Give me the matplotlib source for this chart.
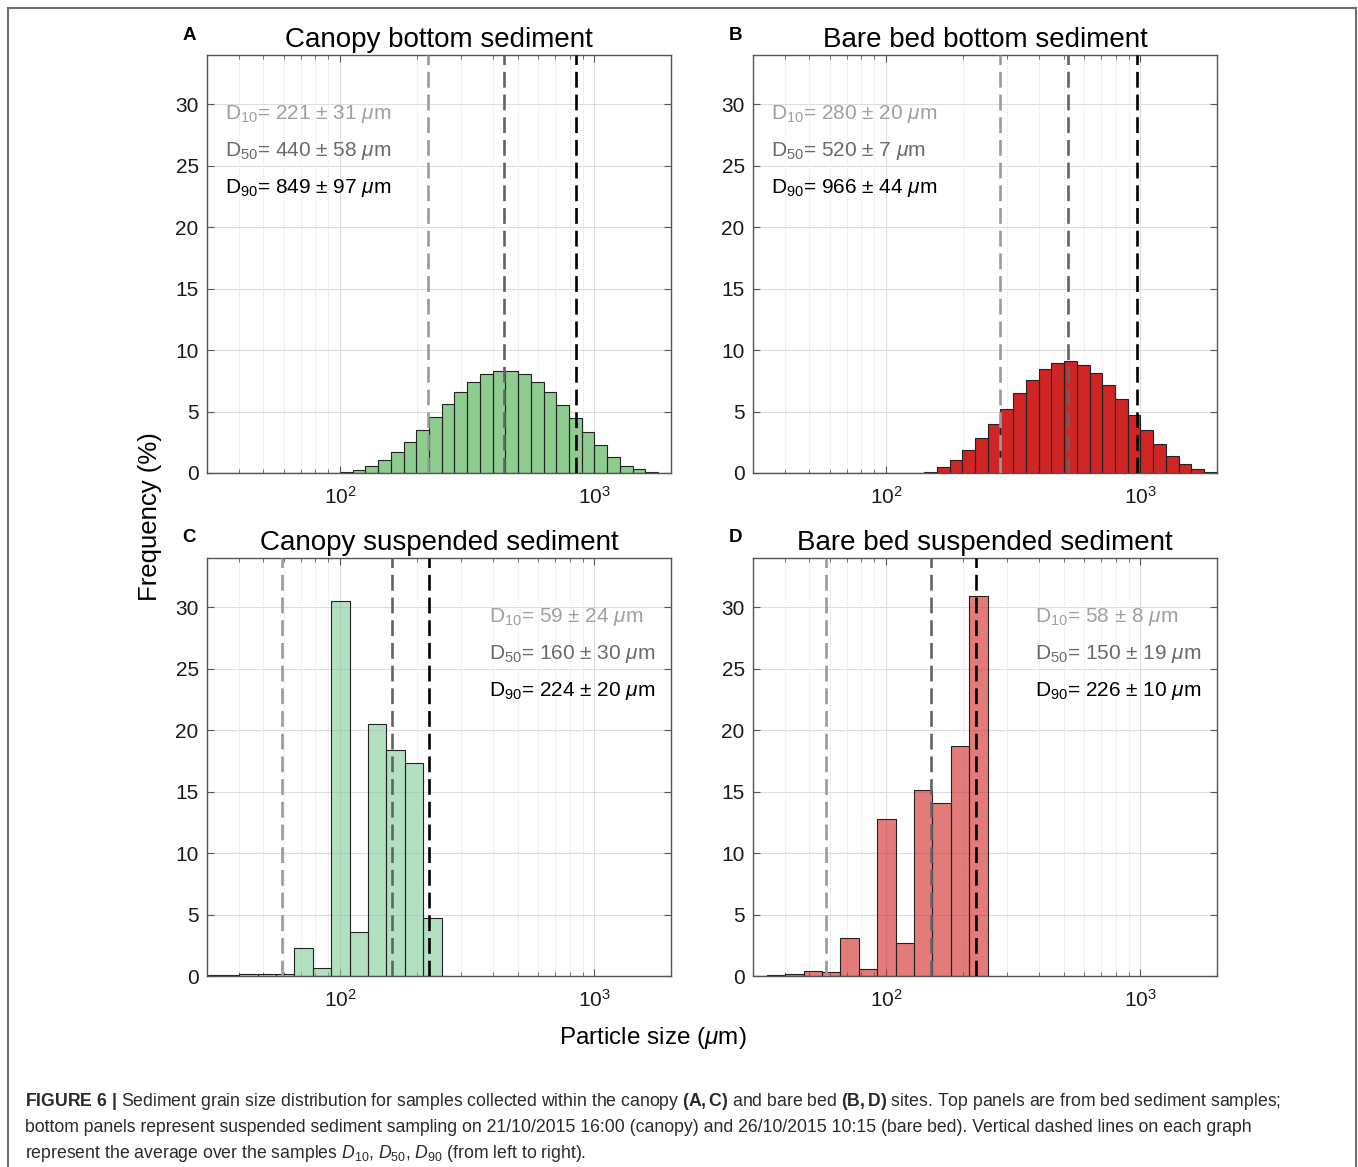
import numpy as np
import matplotlib
matplotlib.use('Agg')
import matplotlib.pyplot as plt
from matplotlib.patches import Rectangle

plt.rcParams['font.family'] = ['Liberation Sans', 'DejaVu Sans']
plt.rcParams['mathtext.fontset'] = 'custom'
plt.rcParams['mathtext.rm'] = 'Liberation Sans'
plt.rcParams['mathtext.it'] = 'Liberation Sans:italic'
plt.rcParams['mathtext.bf'] = 'Liberation Sans:bold'

# Klassengrenzen (um) -----------------------------------------------------------
bed_edges = [31.6, 35.5, 39.8, 44.7, 50.1, 56.2, 63.1, 70.8, 79.4, 89.1, 100,
             112.2, 125.9, 141.3, 158.5, 177.8, 199.5, 223.9, 251.2, 281.8, 316.2,
             354.8, 398.1, 446.7, 501.2, 562.3, 631.0, 707.9, 794.3, 891.3, 1000,
             1122, 1259, 1413, 1585, 1778, 1995]
susp_edges = [28.8, 34.0, 40.2, 47.5, 56.1, 66.2, 78.2, 92.4, 109.2, 128.9,
              152.3, 179.8, 212.4, 250.8]

# Häufigkeiten (%) -------------------------------------------------------------
freq_a = [0.03, 0.03, 0.04, 0.04, 0.03, 0.03, 0.02, 0.02, 0.01, 0.01, 0.08,
          0.27, 0.54, 1.05, 1.7, 2.54, 3.51, 4.57, 5.65, 6.62, 7.43, 8.05, 8.32,
          8.3, 8.03, 7.43, 6.6, 5.57, 4.49, 3.35, 2.3, 1.32, 0.6, 0.3, 0.05, 0.0]
freq_b = [0, 0, 0, 0, 0, 0, 0, 0, 0, 0, 0, 0, 0, 0.05,
          0.51, 1.03, 1.84, 2.81, 4.0, 5.24, 6.54, 7.59, 8.49, 8.97, 9.08, 8.81,
          8.16, 7.16, 6.03, 4.73, 3.51, 2.38, 1.41, 0.76, 0.3, 0.1]
freq_c = [0.1, 0.1, 0.14, 0.2, 0.2, 2.3, 0.68, 30.5, 3.6, 20.5, 18.35, 17.35, 4.7]
freq_d = [0.02, 0.05, 0.19, 0.38, 0.32, 3.08, 0.6, 12.8, 2.7, 15.1, 14.1, 18.7, 30.9]

# D10, D50, D90 (Mittelwert, Standardabweichung) ------------------------------
d_mean_a = [221, 440, 849]
d_std_a = [31, 58, 97]
d_mean_b = [280, 520, 966]
d_std_b = [20, 7, 44]
d_mean_c = [59, 160, 224]
d_std_c = [24, 30, 20]
d_mean_d = [58, 150, 226]
d_std_d = [8, 19, 10]

titles = ['Canopy bottom sediment', 'Bare bed bottom sediment',
          'Canopy suspended sediment', 'Bare bed suspended sediment']
letters = ['A', 'B', 'C', 'D']
d_names = ['10', '50', '90']

W, H = 1358, 1167
fig = plt.figure(figsize=(W / 100, H / 100), dpi=100)


def fx(px):
    return px / W


def fy(py):
    return 1 - py / H


line_cols = ['#9a9a9a', '#636363', 'black']
text_cols = ['#a0a0a0', '#6a6a6a', 'black']

panels = [
    # links, oben, Kanten, Werte, Farbe, Alpha, Stats, Textposition
    (207, 55, bed_edges, freq_a, '#8fcc8f', 1.0, d_mean_a, d_std_a, 0.039),
    (753, 55, bed_edges, freq_b, '#d02525', 1.0, d_mean_b, d_std_b, 0.039),
    (207, 558, susp_edges, freq_c, '#80cc99', 0.6, d_mean_c, d_std_c, 0.608),
    (753, 558, susp_edges, freq_d, '#d42a2a', 0.62, d_mean_d, d_std_d, 0.608),
]

for i, (left, top, edges, freq, col, alpha, dm, ds, tx) in enumerate(panels):
    ax = fig.add_axes([fx(left), fy(top + 418), 464 / W, 418 / H])
    edges = np.array(edges)
    ax.bar(edges[:-1], freq, width=np.diff(edges), align='edge',
           color=col, alpha=alpha, linewidth=0, zorder=2)
    ax.bar(edges[:-1], freq, width=np.diff(edges), align='edge',
           fill=False, edgecolor='#222222', linewidth=0.8, zorder=2)
    for j in range(3):
        ax.axvline(dm[j], color=line_cols[j], lw=1.9, ls=(0, (6, 2.6)), zorder=3)
        ax.text(tx, 28.8 - 3 * j, 'D$_{%s}$= %d ± %d $\\mu$m' % (d_names[j], dm[j], ds[j]),
                transform=ax.get_yaxis_transform(),
                color=text_cols[j], fontsize=15, va='baseline', zorder=4)
    ax.set_xscale('log')
    ax.set_xlim(30, 2000)
    ax.set_ylim(0, 34)
    ax.set_yticks([0, 5, 10, 15, 20, 25, 30])
    ax.set_xticks([100, 1000])
    ax.grid(True, which='major', color='#dedede', lw=0.8, zorder=0)
    ax.grid(True, which='minor', axis='x', color='#d8d8d8', lw=0.7, ls=':', zorder=0)
    ax.set_axisbelow(True)
    ax.tick_params(which='both', direction='in', top=True, right=True,
                   color='#555555', labelsize=15, labelcolor='#1a1a1a')
    ax.tick_params(which='major', length=5, pad=6)
    ax.tick_params(which='minor', length=3)
    ax.tick_params(axis='x', pad=9)
    for s in ax.spines.values():
        s.set_color('#555555')
        s.set_linewidth(1.0)
    ax.set_title(titles[i], fontsize=20, pad=6)
    fig.text(fx(left - 18), fy(top - 20), letters[i], fontsize=13.5,
             fontweight='bold', ha='center', va='center')

# Achsenbeschriftungen ----------------------------------------------------------
fig.text(fx(150), fy(517), 'Frequency (%)', rotation=90, fontsize=18.5,
         ha='center', va='center')
fig.text(fx(653), fy(1038), 'Particle size ($\\mu$m)', fontsize=17.5,
         ha='center', va='center')

# Rahmen und Bildunterschrift ---------------------------------------------------
fig.patches.append(Rectangle((fx(8), fy(1190)), fx(1356) - fx(8), fy(8) - fy(1190),
                             transform=fig.transFigure, fill=False,
                             edgecolor='#6e6e6e', lw=1.5))
cap = [r'$\mathbf{FIGURE\ 6\ |}$ Sediment grain size distribution for samples collected within the canopy '
       r'$\mathbf{(A,C)}$ and bare bed $\mathbf{(B,D)}$ sites. Top panels are from bed sediment samples;',
       'bottom panels represent suspended sediment sampling on 21/10/2015 16:00 (canopy) and 26/10/2015 '
       '10:15 (bare bed). Vertical dashed lines on each graph',
       r'represent the average over the samples $D_{10}$, $D_{50}$, $D_{90}$ (from left to right).']
for k, line in enumerate(cap):
    fig.text(fx(25), fy(1106 + 26 * k), line, fontsize=12.7, color='#2a2a2a',
             ha='left', va='baseline')

fig.savefig('out.png', dpi=100)
